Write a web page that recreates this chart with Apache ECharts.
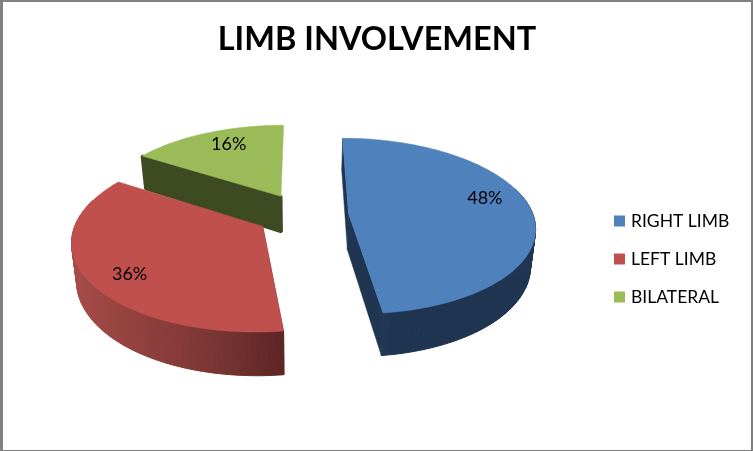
<!DOCTYPE html>
<html>
<head>
<meta charset="utf-8">
<style>html,body{margin:0;padding:0;background:#fff}#c{width:753px;height:451px}</style>
<script src="https://cdn.jsdelivr.net/npm/echarts@6/dist/echarts.min.js"></script>
</head>
<body>
<div id="c"></div>
<script>
// ---- data ----
const titleText = 'LIMB INVOLVEMENT';
const categories = ['RIGHT LIMB', 'LEFT LIMB', 'BILATERAL'];
const values = [48, 36, 16];

// ---- style ----
const topColors = ['#4f81bd', '#c0504d', '#9bbb59'];
const radialWallColors = ['#1f3552', '#5f2a28', '#3d4a22'];
const radialWallStroke = [0.5, 0.5, 3];
const outerWallStops = [
  ['#2b4568', '#1f3450', '#1f3450', '#1f3450', '#1f3450'],
  ['#a64c49', '#95423f', '#863b39', '#723230', '#5c2524'],
  ['#3d4a22', '#3d4a22', '#3d4a22', '#3d4a22', '#3d4a22']
];
const FONT = 'Lato, "Open Sans", sans-serif';

// ---- perspective layout of the pie ----
const CX = 302.5, CY = 214.7, AX = 184.5, BY = 86.4, K = 0.1454;
const EXPLODE = 0.25, DEPTH = 36.5, LOWER_SCALE = 0.978;
const labelRadius = [0.79, 0.81, 0.78];
const labelShift = [-10, -5.4, 3.5];

const total = values.reduce((a, b) => a + b, 0);
const rad = d => d * Math.PI / 180;

function project(u, v, lowered) {
  const w = 1 - K * v;
  return [
    CX + AX * u / w * (lowered ? LOWER_SCALE : 1),
    CY + BY * v / w + (lowered ? DEPTH / w : 0)
  ];
}

function sliceRange(i) {
  let start = 0;
  for (let j = 0; j < i; j++) start += values[j] / total * 360;
  return [start, start + values[i] / total * 360];
}

function renderSlice(params, api) {
  const i = params.seriesIndex;
  const value = api.value(0);
  const [a0, a1] = sliceRange(i);
  const mid = (a0 + a1) / 2;
  const ex = EXPLODE * Math.sin(rad(mid));
  const ey = -EXPLODE * Math.cos(rad(mid));
  const rim = d => [ex + Math.sin(rad(d)), ey - Math.cos(rad(d))];

  const top = [project(ex, ey, false)];
  const upper = [], lower = [], angles = [];
  const steps = Math.ceil((a1 - a0) / 1.5);
  for (let s = 0; s <= steps; s++) {
    const d = a0 + (a1 - a0) * s / steps;
    const [u, v] = rim(d);
    const p = project(u, v, false);
    top.push(p);
    upper.push(p);
    lower.push(project(u, v, true));
    angles.push(d);
  }
  const apexUp = project(ex, ey, false);
  const apexLow = project(ex, ey, true);
  const wallStyle = { fill: radialWallColors[i], stroke: radialWallColors[i], lineWidth: radialWallStroke[i], lineJoin: 'bevel' };
  const children = [
    { type: 'polygon', shape: { points: [apexUp, upper[0], lower[0], apexLow] }, style: wallStyle }
  ];
  // the closing radial wall is only visible when it runs toward the viewer
  if (Math.cos(rad(a1)) < 0) {
    children.push({ type: 'polygon', shape: { points: [apexUp, upper[steps], lower[steps], apexLow] }, style: wallStyle });
  }
  // the curved outer wall: swept quads sharing one gradient laid out in page pixels
  const xs = upper.concat(lower).map(p => p[0]);
  const minX = Math.min.apply(null, xs), maxX = Math.max.apply(null, xs);
  const n = outerWallStops[i].length - 1;
  const grad = () => new echarts.graphic.LinearGradient(minX, 0, maxX, 0,
    outerWallStops[i].map((color, k) => ({ offset: k / n, color })), true);
  for (let s = 0; s < steps; s++) {
    // the far part of the rim is hidden behind the top face
    if (Math.cos(rad(angles[s])) > 0.3) continue;
    children.push({
      type: 'polygon',
      shape: { points: [upper[s], upper[s + 1], lower[s + 1], lower[s]] },
      style: { fill: grad(), stroke: grad(), lineWidth: 1 }
    });
  }
  children.push({ type: 'polygon', shape: { points: top }, style: { fill: topColors[i], stroke: topColors[i], lineWidth: 0.5 } });
  const la = mid + labelShift[i];
  const lp = project(ex + labelRadius[i] * Math.sin(rad(la)), ey - labelRadius[i] * Math.cos(rad(la)), false);
  children.push({
    type: 'text',
    style: {
      x: lp[0], y: lp[1],
      text: Math.round(value / total * 100) + '%',
      fill: '#000', font: '18px ' + FONT,
      textAlign: 'center', textVerticalAlign: 'middle'
    }
  });
  return { type: 'group', children };
}

const GRAY = '#808080';
const chart = echarts.init(document.getElementById('c'));
chart.setOption({
  animation: false,
  backgroundColor: '#fff',
  title: {
    text: titleText, left: 372, top: 18, textAlign: 'center',
    textStyle: { fontFamily: FONT, fontWeight: 'bold', fontSize: 32.5, color: '#000' }
  },
  legend: {
    orient: 'vertical', left: 609, top: 207,
    icon: 'rect', itemWidth: 11, itemHeight: 11, itemGap: 20,
    data: categories,
    selectedMode: false,
    textStyle: { fontFamily: FONT, fontSize: 17.5, color: '#000', padding: [0, 0, 0, 1] }
  },
  graphic: [
    { type: 'rect', shape: { x: 0, y: 0, width: 753, height: 2 }, style: { fill: GRAY } },
    { type: 'rect', shape: { x: 0, y: 450, width: 753, height: 1 }, style: { fill: GRAY } },
    { type: 'rect', shape: { x: 0, y: 0, width: 3, height: 451 }, style: { fill: GRAY } },
    { type: 'rect', shape: { x: 751, y: 0, width: 2, height: 451 }, style: { fill: GRAY } }
  ],
  series: categories.map((name, i) => ({
    type: 'custom',
    name,
    coordinateSystem: 'none',
    itemStyle: { color: topColors[i] },
    silent: true,
    z: 2 + (2 - i),
    renderItem: renderSlice,
    data: [[values[i]]]
  }))
});
</script>
</body>
</html>
